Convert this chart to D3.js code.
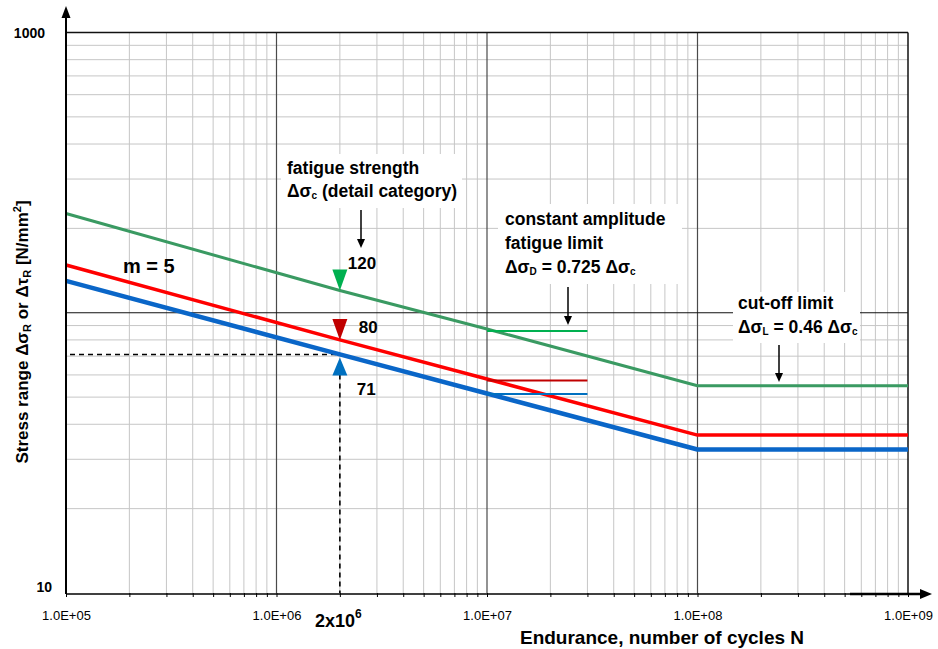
<!DOCTYPE html>
<html>
<head>
<meta charset="utf-8">
<script src="https://cdn.jsdelivr.net/npm/d3@7"></script>
<style>
  body { margin: 0; background: #fff; }
  svg { display: block; font-family: "Liberation Sans", Arial, sans-serif; }
</style>
</head>
<body>
<div id="container"></div>
<script>
//------------------------DATA------------------------//
const cycles = [1e5, 2e6, 1e7, 1e8, 1e9];
const greenValues = [226, 120, 87.5, 54.9, 54.9];
const redValues = [148, 80, 58, 36.6, 36.6];
const blueValues = [130, 71, 51.5, 32.5, 32.5];

// constant amplitude fatigue limit stubs (green, red, blue)
const cafCycles = [1e7, 3e7];
const cafValues = [86, 57.3, 51.3];

// detail categories at 2x10^6 cycles
const refCycles = 2e6;
const categories = [120, 80, 71];

const xTicks = [1e5, 1e6, 1e7, 1e8, 1e9];
const xTickLabels = ['1.0E+05', '1.0E+06', '1.0E+07', '1.0E+08', '1.0E+09'];
const yTicks = [10, 1000];
const yTickLabels = ['10', '1000'];

//------------------------SVG PREPARATION------------------------//
const width = 938;
const height = 649;
const pLeft = 66, pRight = 908, pTop = 32.5, pBottom = 593;

const svg = d3.select('#container').append('svg')
  .attr('width', width)
  .attr('height', height);

const x = d3.scaleLog().domain([1e5, 1e9]).range([pLeft, pRight]);
const y = d3.scaleLog().domain([10, 1000]).range([pBottom, pTop]);

//------------------------GRID------------------------//
const grid = svg.append('g');
const isDecade = (v) => Math.abs(Math.log10(v) - Math.round(Math.log10(v))) < 1e-9;

grid.selectAll('.vminor')
  .data(x.ticks().filter((d) => !isDecade(d)))
  .enter().append('line')
  .attr('x1', (d) => x(d)).attr('x2', (d) => x(d))
  .attr('y1', pTop).attr('y2', pBottom)
  .attr('stroke', '#c6c6c6').attr('stroke-width', 1);

grid.selectAll('.hminor')
  .data(y.ticks().filter((d) => !isDecade(d)))
  .enter().append('line')
  .attr('x1', pLeft).attr('x2', pRight)
  .attr('y1', (d) => y(d)).attr('y2', (d) => y(d))
  .attr('stroke', '#c6c6c6').attr('stroke-width', 1);

grid.selectAll('.vmajor')
  .data([1e6, 1e7, 1e8])
  .enter().append('line')
  .attr('x1', (d) => x(d)).attr('x2', (d) => x(d))
  .attr('y1', pTop).attr('y2', pBottom)
  .attr('stroke', '#4a4a4a').attr('stroke-width', 1.2);

grid.append('line')
  .attr('x1', pLeft).attr('x2', pRight)
  .attr('y1', y(100)).attr('y2', y(100))
  .attr('stroke', '#111').attr('stroke-width', 1);

// frame top / right
grid.append('line').attr('x1', pLeft).attr('x2', pRight).attr('y1', pTop).attr('y2', pTop)
  .attr('stroke', '#111').attr('stroke-width', 1.5);
grid.append('line').attr('x1', pRight).attr('x2', pRight).attr('y1', pTop).attr('y2', pBottom)
  .attr('stroke', '#111').attr('stroke-width', 1.5);

//------------------------ANNOTATION BOXES------------------------//
const boxes = [
  { x: 281, y: 154, w: 181, h: 54, lines: [
    [['fatigue strength']],
    [['Δσ'], ['c', 'sub'], [' (detail category)']]
  ], tx: 287, ty: 174, gap: 23 },
  { x: 498, y: 204, w: 184, h: 80, lines: [
    [['constant amplitude']],
    [['fatigue limit']],
    [['Δσ'], ['D', 'sub'], [' = 0.725 Δσ'], ['c', 'sub']]
  ], tx: 505, ty: 225, gap: 24 },
  { x: 733, y: 292, w: 127, h: 51, lines: [
    [['cut-off limit']],
    [['Δσ'], ['L', 'sub'], [' = 0.46 Δσ'], ['c', 'sub']]
  ], tx: 738, ty: 309, gap: 24 }
];

boxes.forEach((b) => {
  svg.append('rect').attr('x', b.x).attr('y', b.y).attr('width', b.w).attr('height', b.h)
    .attr('fill', '#fff');
});

//------------------------SERIES------------------------//
const series = [
  { values: greenValues, color: '#3a9a62', width: 3 },
  { values: redValues, color: '#ff0000', width: 3.5 },
  { values: blueValues, color: '#0a66c8', width: 4.5 }
];
const line = d3.line().x((d) => x(d[0])).y((d) => y(d[1]));

// dashed reference for lowest category
svg.append('line')
  .attr('x1', x(1e5) + 4).attr('x2', x(refCycles))
  .attr('y1', y(categories[2])).attr('y2', y(categories[2]))
  .attr('stroke', '#000').attr('stroke-width', 1.6).attr('stroke-dasharray', '5,4');
svg.append('line')
  .attr('x1', x(refCycles)).attr('x2', x(refCycles))
  .attr('y1', y(categories[2]) + 20).attr('y2', pBottom)
  .attr('stroke', '#000').attr('stroke-width', 1.6).attr('stroke-dasharray', '5,4');

series.forEach((s) => {
  svg.append('path')
    .datum(cycles.map((c, i) => [c, s.values[i]]))
    .attr('d', line)
    .attr('fill', 'none')
    .attr('stroke', s.color)
    .attr('stroke-width', s.width)
    .attr('stroke-linejoin', 'round');
});

const cafColors = ['#00b050', '#c00000', '#0070c0'];
svg.selectAll('.caf')
  .data(cafValues)
  .enter().append('line')
  .attr('x1', x(cafCycles[0])).attr('x2', x(cafCycles[1]))
  .attr('y1', (d) => y(d)).attr('y2', (d) => y(d))
  .attr('stroke', (d, i) => cafColors[i])
  .attr('stroke-width', 2);

//------------------------MARKERS------------------------//
const markerColors = ['#00b050', '#c00000', '#0070c0'];
const markerDir = ['down', 'down', 'up'];
const labelDx = [8, 19, 17];
const labelDy = [-21.5, -7, 40.6];

categories.forEach((c, i) => {
  const cx = x(refCycles);
  let p;
  if (markerDir[i] === 'down') {
    const tip = y(c);
    p = `M${cx},${tip}L${cx - 7.5},${tip - 21}L${cx + 7.5},${tip - 21}Z`;
  } else {
    const tip = y(c) + 3;
    p = `M${cx},${tip}L${cx - 7.5},${tip + 18}L${cx + 7.5},${tip + 18}Z`;
  }
  svg.append('path').attr('d', p).attr('fill', markerColors[i]);
  svg.append('text')
    .attr('x', cx + labelDx[i]).attr('y', y(c) + labelDy[i])
    .attr('font-size', 17).attr('font-weight', 'bold')
    .text(c);
});

//------------------------TEXT IN BOXES------------------------//
boxes.forEach((b) => {
  b.lines.forEach((ln, li) => {
    const t = svg.append('text')
      .attr('x', b.tx).attr('y', b.ty + li * b.gap)
      .attr('font-size', 17.5).attr('font-weight', 'bold');
    ln.forEach((part, pi) => {
      const ts = t.append('tspan').text(part[0]);
      if (part[1] === 'sub') ts.attr('font-size', 10).attr('dy', 2);
      else if (pi > 0) ts.attr('dy', -2);
    });
  });
});

// arrows
const arrows = [[361, 210, 248], [568, 287, 325], [779, 345, 382]];
arrows.forEach((a) => {
  svg.append('line').attr('x1', a[0]).attr('x2', a[0]).attr('y1', a[1]).attr('y2', a[2] - 7)
    .attr('stroke', '#000').attr('stroke-width', 1.5);
  svg.append('path')
    .attr('d', `M${a[0]},${a[2]}L${a[0] - 4},${a[2] - 9}L${a[0] + 4},${a[2] - 9}Z`)
    .attr('fill', '#000');
});

svg.append('text')
  .attr('x', 123).attr('y', 273)
  .attr('font-size', 20).attr('font-weight', 'bold')
  .text('m = 5');

//------------------------AXES------------------------//
const xAxis = d3.axisBottom(x)
  .tickValues(x.ticks())
  .tickSize(4)
  .tickSizeOuter(0)
  .tickPadding(14)
  .tickFormat((d) => {
    const i = xTicks.findIndex((t) => Math.abs(t - d) / t < 1e-9);
    return i >= 0 ? xTickLabels[i] : '';
  });

const gx = svg.append('g')
  .attr('transform', `translate(0,${pBottom})`)
  .call(xAxis);
gx.select('.domain').remove();
gx.selectAll('line').attr('stroke', '#000');
gx.selectAll('text')
  .attr('font-family', '"Liberation Sans", Arial, sans-serif')
  .attr('font-size', 13).attr('fill', '#000');

const yAxis = d3.axisLeft(y)
  .tickValues(yTicks)
  .tickSize(0)
  .tickPadding(14)
  .tickFormat((d, i) => yTickLabels[i]);
const gy = svg.append('g')
  .attr('transform', `translate(${pLeft},0)`)
  .call(yAxis);
gy.select('.domain').remove();
gy.selectAll('text')
  .attr('font-family', '"Liberation Sans", Arial, sans-serif')
  .attr('font-size', 14).attr('font-weight', 'bold').attr('fill', '#000')
  .attr('x', (d) => (d === 1000 ? -21 : -14))
  .attr('dy', (d) => (d === 1000 ? '0.35em' : '-0.1em'));

// axis lines with arrows
svg.append('line').attr('x1', pLeft).attr('x2', pRight).attr('y1', pBottom + 1).attr('y2', pBottom + 1)
  .attr('stroke', '#000').attr('stroke-width', 1.4);
svg.append('line').attr('x1', 850).attr('x2', 922).attr('y1', pBottom + 1).attr('y2', pBottom + 1)
  .attr('stroke', '#000').attr('stroke-width', 2.6);
svg.append('path')
  .attr('d', `M932,${pBottom + 1}L920,${pBottom - 4}L920,${pBottom + 6}Z`).attr('fill', '#000');

svg.append('line').attr('x1', pLeft).attr('x2', pLeft).attr('y1', pBottom + 1).attr('y2', 16)
  .attr('stroke', '#000').attr('stroke-width', 2);
svg.append('path')
  .attr('d', `M${pLeft},6L${pLeft - 4.5},18L${pLeft + 4.5},18Z`).attr('fill', '#000');

// 2x10^6 label
const t2 = svg.append('text')
  .attr('x', 315).attr('y', 627)
  .attr('font-size', 18).attr('font-weight', 'bold');
t2.append('tspan').text('2x10');
t2.append('tspan').text('6').attr('font-size', 12).attr('dy', -9);

// axis titles
svg.append('text')
  .attr('x', 662).attr('y', 644)
  .attr('text-anchor', 'middle')
  .attr('font-size', 19).attr('font-weight', 'bold')
  .text('Endurance, number of cycles N');

const yt = svg.append('text')
  .attr('transform', 'translate(28,332) rotate(-90)')
  .attr('text-anchor', 'middle')
  .attr('font-size', 17).attr('font-weight', 'bold');
yt.append('tspan').text('Stress range Δσ');
yt.append('tspan').text('R').attr('font-size', 11).attr('dy', 3);
yt.append('tspan').text(' or Δτ').attr('dy', -3);
yt.append('tspan').text('R').attr('font-size', 11).attr('dy', 3);
yt.append('tspan').text(' [N/mm').attr('dy', -3);
yt.append('tspan').text('2').attr('font-size', 11).attr('dy', -7);
yt.append('tspan').text(']').attr('dy', 7);
</script>
</body>
</html>
